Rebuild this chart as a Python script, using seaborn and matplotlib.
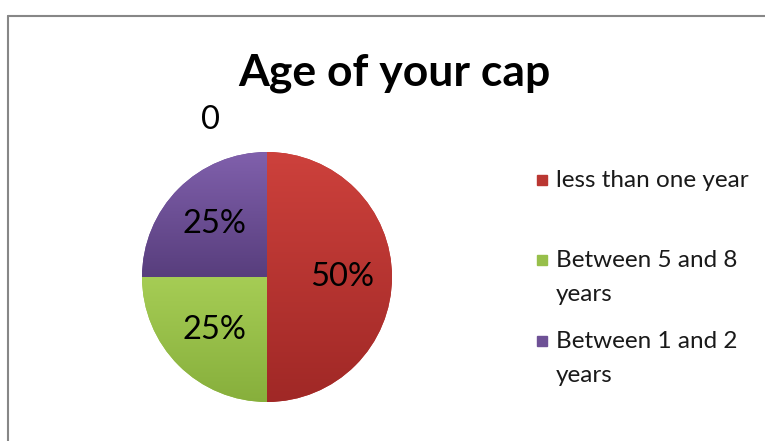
import numpy as np
import matplotlib
matplotlib.use("Agg")
import matplotlib.pyplot as plt
import seaborn as sns
from matplotlib.colors import LinearSegmentedColormap
from matplotlib.patches import Rectangle
from matplotlib.lines import Line2D

# Chart data
categories = ["less than one year", "Between 5 and 8 years", "Between 1 and 2 years"]
legend_labels = ["less than one year", "Between 5 and 8\nyears", "Between 1 and 2\nyears"]
counts = [2, 1, 1]
zero_label = "0"
title = "Age of your cap"

# slice colours (light at top, dark at bottom like the Excel gradient)
top_colors = ["#CD413C", "#A6CD55", "#8060AC"]
mid_colors = ["#BA3732", "#97BF4A", "#6E5196"]
bottom_colors = ["#A02826", "#87AF3C", "#583E7D"]

sns.set_theme(style="white")
plt.rcParams["font.family"] = ["Lato", "DejaVu Sans"]

W, H = 765, 441
fig = plt.figure(figsize=(W / 100, H / 100), dpi=100)
fig.patch.set_facecolor("white")


def fx(x):
    return x / W


def fy(y):
    return 1 - y / H


# Outer chart frame (runs off the right and bottom edges)
frame_kw = dict(color="#878787", lw=1.5, transform=fig.transFigure)
fig.add_artist(Line2D([fx(8), fx(8)], [fy(16), 0], **frame_kw))
fig.add_artist(Line2D([fx(8), 1], [fy(16), fy(16)], **frame_kw))

# Title
fig.text(fx(394), fy(73), title, ha="center", va="center",
         fontsize=32, fontweight="bold", color="black")

# Pie
cx, cy, r = 267, 277, 125
ax = fig.add_axes([fx(cx - r), (H - cy - r) / H, 2 * r / W, 2 * r / H])
wedges, texts, autotexts = ax.pie(
    counts, colors=mid_colors, startangle=90, counterclock=False,
    autopct=lambda p: f"{p:.0f}%", pctdistance=0.6,
    textprops=dict(fontsize=23.5, color="black"),
    wedgeprops=dict(edgecolor="none"))

# gradient fill clipped to each wedge
for w, c0, c1 in zip(wedges, top_colors, bottom_colors):
    bb = w.get_path().get_extents()
    cmap = LinearSegmentedColormap.from_list("g", [c0, c1])
    grad = np.linspace(0, 1, 256).reshape(-1, 1)
    im = ax.imshow(grad, cmap=cmap, aspect="auto",
                   extent=[bb.x0, bb.x1, bb.y0, bb.y1], zorder=1)
    im.set_clip_path(w)
for t in autotexts:
    t.set_zorder(5)

ax.text(-0.45, 1.256, zero_label, ha="center", va="center",
        fontsize=23.5, color="black", clip_on=False)

ax.set_xlim(-1, 1)
ax.set_ylim(-1, 1)
ax.set_aspect("equal")
ax.axis("off")

# Legend drawn by hand so multi-line labels line up like Excel
legend_y = [180, 260, 341]
for lab, y0, c in zip(legend_labels, legend_y, mid_colors):
    fig.add_artist(Rectangle((fx(537), fy(y0 + 5)), 10 / W, 10 / H,
                             transform=fig.transFigure, color=c))
    fig.text(fx(556), fy(y0 - 10), lab, ha="left", va="top",
             fontsize=17.5, color="#1a1a1a", linespacing=1.75)

fig.savefig("out.png", dpi=100)
